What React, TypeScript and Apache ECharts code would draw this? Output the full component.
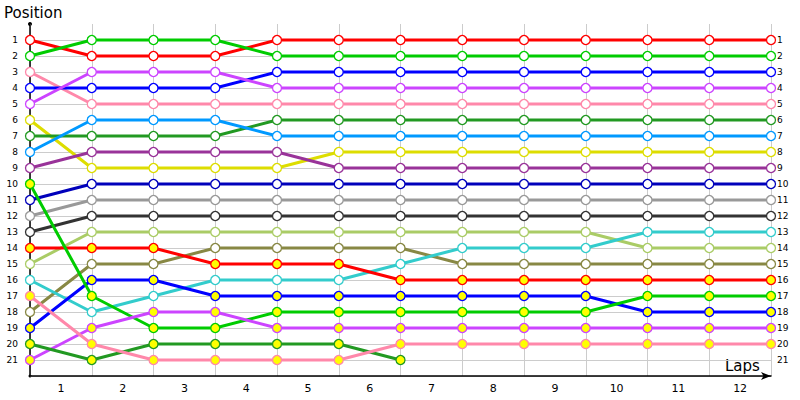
import React, { useEffect, useRef } from "react";
import * as echarts from "echarts";

// Lap labels (bands between grid points) and position tick labels
const lapLabels = ["1", "2", "3", "4", "5", "6", "7", "8", "9", "10", "11", "12"];
const positions = Array.from({ length: 21 }, (_, i) => i + 1);

// Position of each driver at start (index 0) and after each lap (1..12)
const redA = [1, 2, 2, 2, 1, 1, 1, 1, 1, 1, 1, 1, 1];
const greenA = [2, 1, 1, 1, 2, 2, 2, 2, 2, 2, 2, 2, 2];
const pinkA = [3, 5, 5, 5, 5, 5, 5, 5, 5, 5, 5, 5, 5];
const blueA = [4, 4, 4, 4, 3, 3, 3, 3, 3, 3, 3, 3, 3];
const violetA = [5, 3, 3, 3, 4, 4, 4, 4, 4, 4, 4, 4, 4];
const yellowA = [6, 9, 9, 9, 9, 8, 8, 8, 8, 8, 8, 8, 8];
const forestA = [7, 7, 7, 7, 6, 6, 6, 6, 6, 6, 6, 6, 6];
const skyA = [8, 6, 6, 6, 7, 7, 7, 7, 7, 7, 7, 7, 7];
const plumA = [9, 8, 8, 8, 8, 9, 9, 9, 9, 9, 9, 9, 9];
const navyA = [11, 10, 10, 10, 10, 10, 10, 10, 10, 10, 10, 10, 10];
const greyA = [12, 11, 11, 11, 11, 11, 11, 11, 11, 11, 11, 11, 11];
const blackA = [13, 12, 12, 12, 12, 12, 12, 12, 12, 12, 12, 12, 12];
const limeA = [15, 13, 13, 13, 13, 13, 13, 13, 13, 13, 14, 14, 14];
const redB = [14, 14, 14, 15, 15, 15, 16, 16, 16, 16, 16, 16, 16];
const cyanA = [16, 18, 17, 16, 16, 16, 15, 14, 14, 14, 13, 13, 13];
const oliveA = [18, 15, 15, 14, 14, 14, 14, 15, 15, 15, 15, 15, 15];
const blueB = [19, 16, 16, 17, 17, 17, 17, 17, 17, 17, 18, 18, 18];
const greenB = [10, 17, 19, 19, 18, 18, 18, 18, 18, 18, 17, 17, 17];
const violetB = [21, 19, 18, 18, 19, 19, 19, 19, 19, 19, 19, 19, 19];
const forestB = [20, 21, 20, 20, 20, 20, 21];
const pinkB = [17, 20, 21, 21, 21, 21, 20, 20, 20, 20, 20, 20, 20];

const drivers: [number[], string, boolean][] = [
  [redA, "#ff0000", false],
  [greenA, "#00cc00", false],
  [pinkA, "#ff88aa", false],
  [blueA, "#0000ff", false],
  [violetA, "#cc44ff", false],
  [yellowA, "#dddd00", false],
  [forestA, "#229922", false],
  [skyA, "#0099ff", false],
  [plumA, "#993399", false],
  [navyA, "#0000bb", false],
  [greyA, "#999999", false],
  [blackA, "#333333", false],
  [limeA, "#aacc66", false],
  [oliveA, "#888844", false],
  [cyanA, "#33cccc", false],
  [redB, "#ff0000", true],
  [blueB, "#0000ff", true],
  [greenB, "#00cc00", true],
  [violetB, "#cc44ff", true],
  [forestB, "#229922", true],
  [pinkB, "#ff88aa", true],
];

const FONT = "DejaVu Sans";

export default function App() {
  const ref = useRef<HTMLDivElement>(null);
  useEffect(() => {
    if (!ref.current) return;
    const chart = echarts.init(ref.current, null, { renderer: "svg" });
    const series = drivers.map(([vals, color, yellow]) => ({
      type: "line",
      xAxisIndex: 0,
      yAxisIndex: 0,
      data: vals.map((v, i) => [i, v]),
      symbol: "circle",
      symbolSize: 9,
      showAllSymbol: true,
      lineStyle: { color, width: 3 },
      itemStyle: { color: yellow ? "#ffff00" : "#ffffff", borderColor: color, borderWidth: 1.3 },
      emphasis: { disabled: true },
    }));
    chart.setOption({
      animation: false,
      textStyle: { fontFamily: FONT },
      grid: { left: 30, right: 29, top: 24, bottom: 24, containLabel: false },
      xAxis: [
        {
          type: "value",
          min: 0,
          max: 12,
          interval: 1,
          position: "bottom",
          axisLabel: { show: false },
          axisTick: { show: false },
          axisLine: {
            show: true,
            onZero: false,
            lineStyle: { color: "#000", width: 1.5 },
            symbol: ["none", "arrow"],
            symbolSize: [6, 10],
            symbolOffset: [0, 0],
          },
          splitLine: { show: true, lineStyle: { color: "#cccccc", width: 1 } },
        },
        {
          type: "category",
          data: lapLabels,
          boundaryGap: true,
          position: "bottom",
          axisLine: { show: false, onZero: false },
          axisTick: { show: false },
          splitLine: { show: false },
          axisLabel: { color: "#000", fontSize: 11, fontFamily: FONT, margin: 7 },
        },
      ],
      yAxis: [
        {
          type: "value",
          inverse: true,
          min: 0,
          max: 22,
          interval: 1,
          axisLine: { show: true, onZero: false, lineStyle: { color: "#000", width: 1.5 } },
          axisTick: { show: false },
          axisLabel: {
            color: "#000",
            fontSize: 9,
            fontFamily: FONT,
            margin: 12,
            formatter: (v: number) => (positions.includes(v) ? String(v) : ""),
          },
          splitLine: { show: true, showMinLine: false, lineStyle: { color: "#cccccc", width: 1 } },
        },
        {
          type: "value",
          inverse: true,
          min: 0,
          max: 22,
          interval: 1,
          position: "right",
          axisLine: { show: false, onZero: false },
          axisTick: { show: false },
          axisLabel: {
            color: "#000",
            fontSize: 9,
            fontFamily: FONT,
            margin: 6,
            formatter: (v: number) => (positions.includes(v) ? String(v) : ""),
          },
          splitLine: { show: false },
        },
      ],
      graphic: [
        {
          type: "text",
          left: 4,
          top: 5,
          style: { text: "Position", fontSize: 15, fontFamily: FONT, fill: "#000" },
        },
        {
          type: "text",
          left: 725,
          top: 358,
          style: { text: "Laps", fontSize: 15, fontFamily: FONT, fill: "#000" },
        },
        { type: "circle", shape: { cx: 30, cy: 24, r: 2 }, style: { fill: "#000" } },
        { type: "circle", shape: { cx: 30, cy: 376, r: 1.5 }, style: { fill: "#000" } },
      ],
      series,
    });
    return () => chart.dispose();
  }, []);
  return (
    <div
      ref={ref}
      style={{ position: "fixed", left: 0, top: 0, width: 800, height: 400, background: "#fff" }}
    />
  );
}
